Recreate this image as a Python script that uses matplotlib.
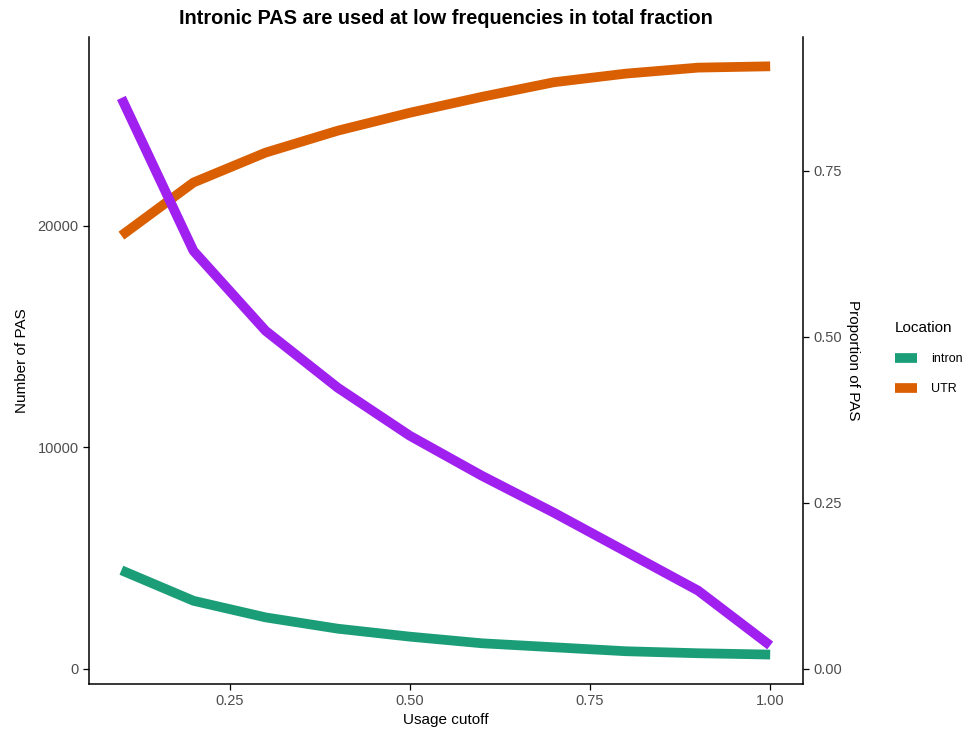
import matplotlib
matplotlib.use("Agg")
import matplotlib.pyplot as plt
from matplotlib.lines import Line2D

plt.rcParams['font.family'] = ['Liberation Sans', 'DejaVu Sans']

# usage cutoffs
cutoff = [0.1, 0.2, 0.3, 0.4, 0.5, 0.6, 0.7, 0.8, 0.9, 1.0]
# total number of PAS passing each cutoff
n_pas = [25780, 18870, 15260, 12690, 10520, 8710, 7040, 5280, 3520, 1040]
# proportion of PAS by location
prop_intron = [0.148, 0.102, 0.077, 0.060, 0.048, 0.038, 0.032, 0.026, 0.023, 0.021]
prop_utr = [0.652, 0.732, 0.777, 0.810, 0.837, 0.861, 0.883, 0.896, 0.905, 0.907]
locations = ["intron", "UTR"]

SCALE = 30000  # proportion -> count scale for the secondary axis
col_intron = "#1B9E77"
col_utr = "#D95F02"
col_total = "#A020F0"
grey = "#4D4D4D"

fig = plt.figure(figsize=(9.67, 7.32), dpi=100)
ax = fig.add_axes([0.092, 0.0656, 0.738, 0.884])

lw = 7
ax.plot(cutoff, [p * SCALE for p in prop_intron], color=col_intron, lw=lw, solid_capstyle="butt")
ax.plot(cutoff, [p * SCALE for p in prop_utr], color=col_utr, lw=lw, solid_capstyle="butt")
ax.plot(cutoff, n_pas, color=col_total, lw=lw, solid_capstyle="butt")

# ggplot-style 5% expansion
allv = n_pas + [p * SCALE for p in prop_intron + prop_utr]
lo, hi = min(allv), max(allv)
pad = 0.05 * (hi - lo)
ax.set_ylim(lo - pad, hi + pad)
ax.set_xlim(0.1 - 0.045, 1.0 + 0.045)

ax.set_xticks([0.25, 0.5, 0.75, 1.0])
ax.set_xticklabels(["0.25", "0.50", "0.75", "1.00"])
ax.set_yticks([0, 10000, 20000])

sec = ax.secondary_yaxis("right", functions=(lambda y: y / SCALE, lambda p: p * SCALE))
sec.set_yticks([0.0, 0.25, 0.5, 0.75])
sec.set_yticklabels(["0.00", "0.25", "0.50", "0.75"])

for a in (ax, sec):
    a.tick_params(labelsize=10.5, colors="black", labelcolor=grey, length=4, width=0.9)
for s in ("top", "right"):
    ax.spines[s].set_visible(False)
for s in ("left", "bottom"):
    ax.spines[s].set_linewidth(1.1)
sec.spines["right"].set_linewidth(1.1)

ax.set_xlabel("Usage cutoff", fontsize=11, labelpad=3)
ax.set_ylabel("Number of PAS", fontsize=11, labelpad=6)
sec.set_ylabel("Proportion of PAS", fontsize=11, rotation=-90, labelpad=13)
ax.set_title("Intronic PAS are used at low frequencies in total fraction",
             fontsize=14.3, fontweight="bold", pad=9)

handles = [Line2D([], [], color=c, lw=7, solid_capstyle="butt") for c in (col_intron, col_utr)]
leg = fig.legend(handles, locations, title="Location", loc="upper left",
                 bbox_to_anchor=(0.914, 0.577), frameon=False, fontsize=9,
                 title_fontsize=11, handlelength=1.75, handletextpad=1.1,
                 labelspacing=1.45)
leg._legend_box.align = "left"

fig.savefig("out.png", dpi=100)
